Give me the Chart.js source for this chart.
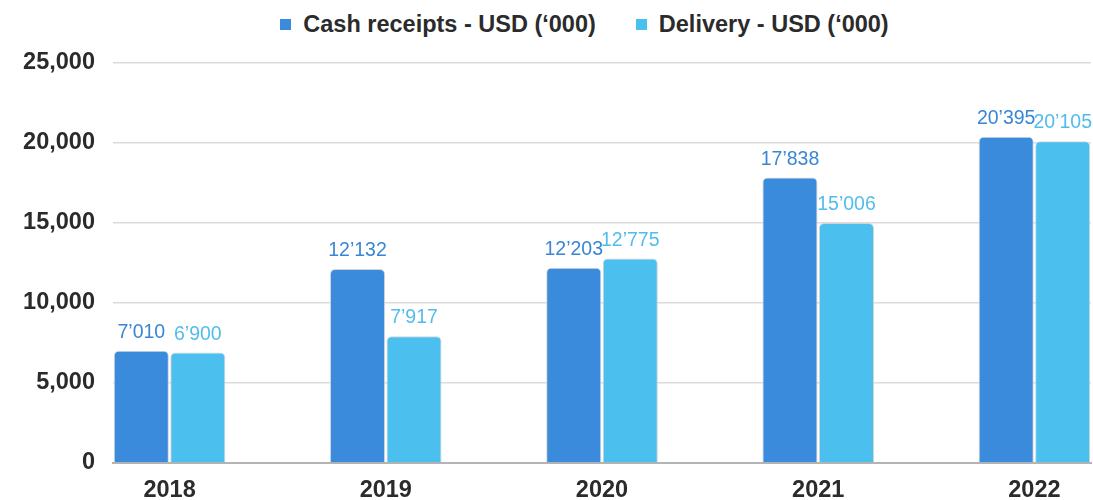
<!DOCTYPE html>
<html>
<head>
<meta charset="utf-8">
<script src="https://cdn.jsdelivr.net/npm/chart.js@4/dist/chart.umd.min.js"></script>
<style>
  html, body { margin: 0; padding: 0; background: #fff; }
  .wrap { position: relative; width: 1093px; height: 500px; overflow: hidden; }
  .legend {
    position: absolute; left: 0; top: 0; width: 1093px; height: 48px;
    display: flex; align-items: center; justify-content: center; gap: 40px;
    padding-left: 76px; box-sizing: border-box;
    font: bold 23.5px "Liberation Sans", Arial, sans-serif; color: #2b2b2b;
  }
  .legend .item { display: flex; align-items: center; gap: 12px; white-space: nowrap; }
  .legend .sw { width: 11px; height: 11px; }
  canvas { position: absolute; left: 0; top: 0; }
</style>
</head>
<body>
<div class="wrap">
  <div class="legend" id="legend"></div>
  <canvas id="chart" width="1093" height="500"></canvas>
</div>
<script>
// ── data ─────────────────────────────────────────────────────────────
const years         = ['2018', '2019', '2020', '2021', '2022'];
const cashReceipts  = [7010, 12132, 12203, 17838, 20395];
const delivery      = [6900, 7917, 12775, 15006, 20105];
const seriesNames   = ['Cash receipts - USD (‘000)', 'Delivery - USD (‘000)'];
const yTicks        = [0, 5000, 10000, 15000, 20000, 25000];

const BAR_COLORS   = ['#3b8bdc', '#4bbfee'];
const LABEL_COLORS = ['#3a86d5', '#52bdec'];
const FONT = '"Liberation Sans", Arial, sans-serif';

// 20395 -> 20’395
const APOS = v => String(v).replace(/\B(?=(\d{3})+(?!\d))/g, '’');

// HTML legend
document.getElementById('legend').innerHTML = seriesNames.map((n, i) => `
  <div class="item"><div class="sw" style="background:${BAR_COLORS[i]};"></div><span>${n}</span></div>`).join('');

// value labels above bars
const valueLabels = {
  id: 'valueLabels',
  afterDatasetsDraw(chart) {
    const { ctx } = chart;
    ctx.save();
    ctx.font = `19.5px ${FONT}`;
    ctx.textAlign = 'center';
    ctx.textBaseline = 'alphabetic';
    chart.data.datasets.forEach((ds, di) => {
      ctx.fillStyle = LABEL_COLORS[di];
      chart.getDatasetMeta(di).data.forEach((bar, i) => {
        ctx.fillText(APOS(ds.data[i].y), bar.x, bar.y - 13);
      });
    });
    ctx.restore();
  },
};

// numeric x so the groups sit flush with both plot edges
const EDGE = 0.2616;

new Chart(document.getElementById('chart'), {
  type: 'bar',
  data: {
    datasets: [
      {
        label: seriesNames[0],
        data: cashReceipts.map((v, i) => ({ x: i, y: v })),
        backgroundColor: BAR_COLORS[0],
        borderColor: '#d4d4d4', borderWidth: 1, borderSkipped: 'bottom',
        borderRadius: { topLeft: 5, topRight: 5 },
      },
      {
        label: seriesNames[1],
        data: delivery.map((v, i) => ({ x: i, y: v })),
        backgroundColor: BAR_COLORS[1],
        borderColor: '#d4d4d4', borderWidth: 1, borderSkipped: 'bottom',
        borderRadius: { topLeft: 5, topRight: 5 },
      },
    ],
  },
  options: {
    responsive: false, animation: false,
    layout: { padding: { top: 63, right: 2, left: 0, bottom: 0 } },
    categoryPercentage: 0.5227, barPercentage: 0.975,
    plugins: { legend: { display: false }, tooltip: { enabled: false } },
    scales: {
      x: {
        type: 'linear', offset: false,
        min: -EDGE, max: years.length - 1 + EDGE,
        afterBuildTicks: s => { s.ticks = years.map((_, i) => ({ value: i })); },
        afterFit: s => { s.height = 37; },
        grid: { display: false },
        border: { display: true, color: '#b4b4b4', width: 2 },
        ticks: {
          color: '#2b2b2b', padding: 8, maxRotation: 0, autoSkip: false,
          font: { family: FONT, size: 23.5, weight: 'bold', lineHeight: 1 },
          callback: v => years[v] ?? '',
        },
      },
      y: {
        min: 0, max: 25000,
        afterBuildTicks: s => { s.ticks = yTicks.map(v => ({ value: v })); },
        afterFit: s => { s.width = 113; },
        grid: { color: '#dcdcdc', lineWidth: 1.5, drawTicks: false },
        border: { display: false },
        ticks: {
          color: '#2b2b2b', padding: 18,
          font: { family: FONT, size: 23.5, weight: 'bold' },
          callback: v => v.toLocaleString('en-US'),
        },
      },
    },
  },
  plugins: [valueLabels],
});
</script>
</body>
</html>
